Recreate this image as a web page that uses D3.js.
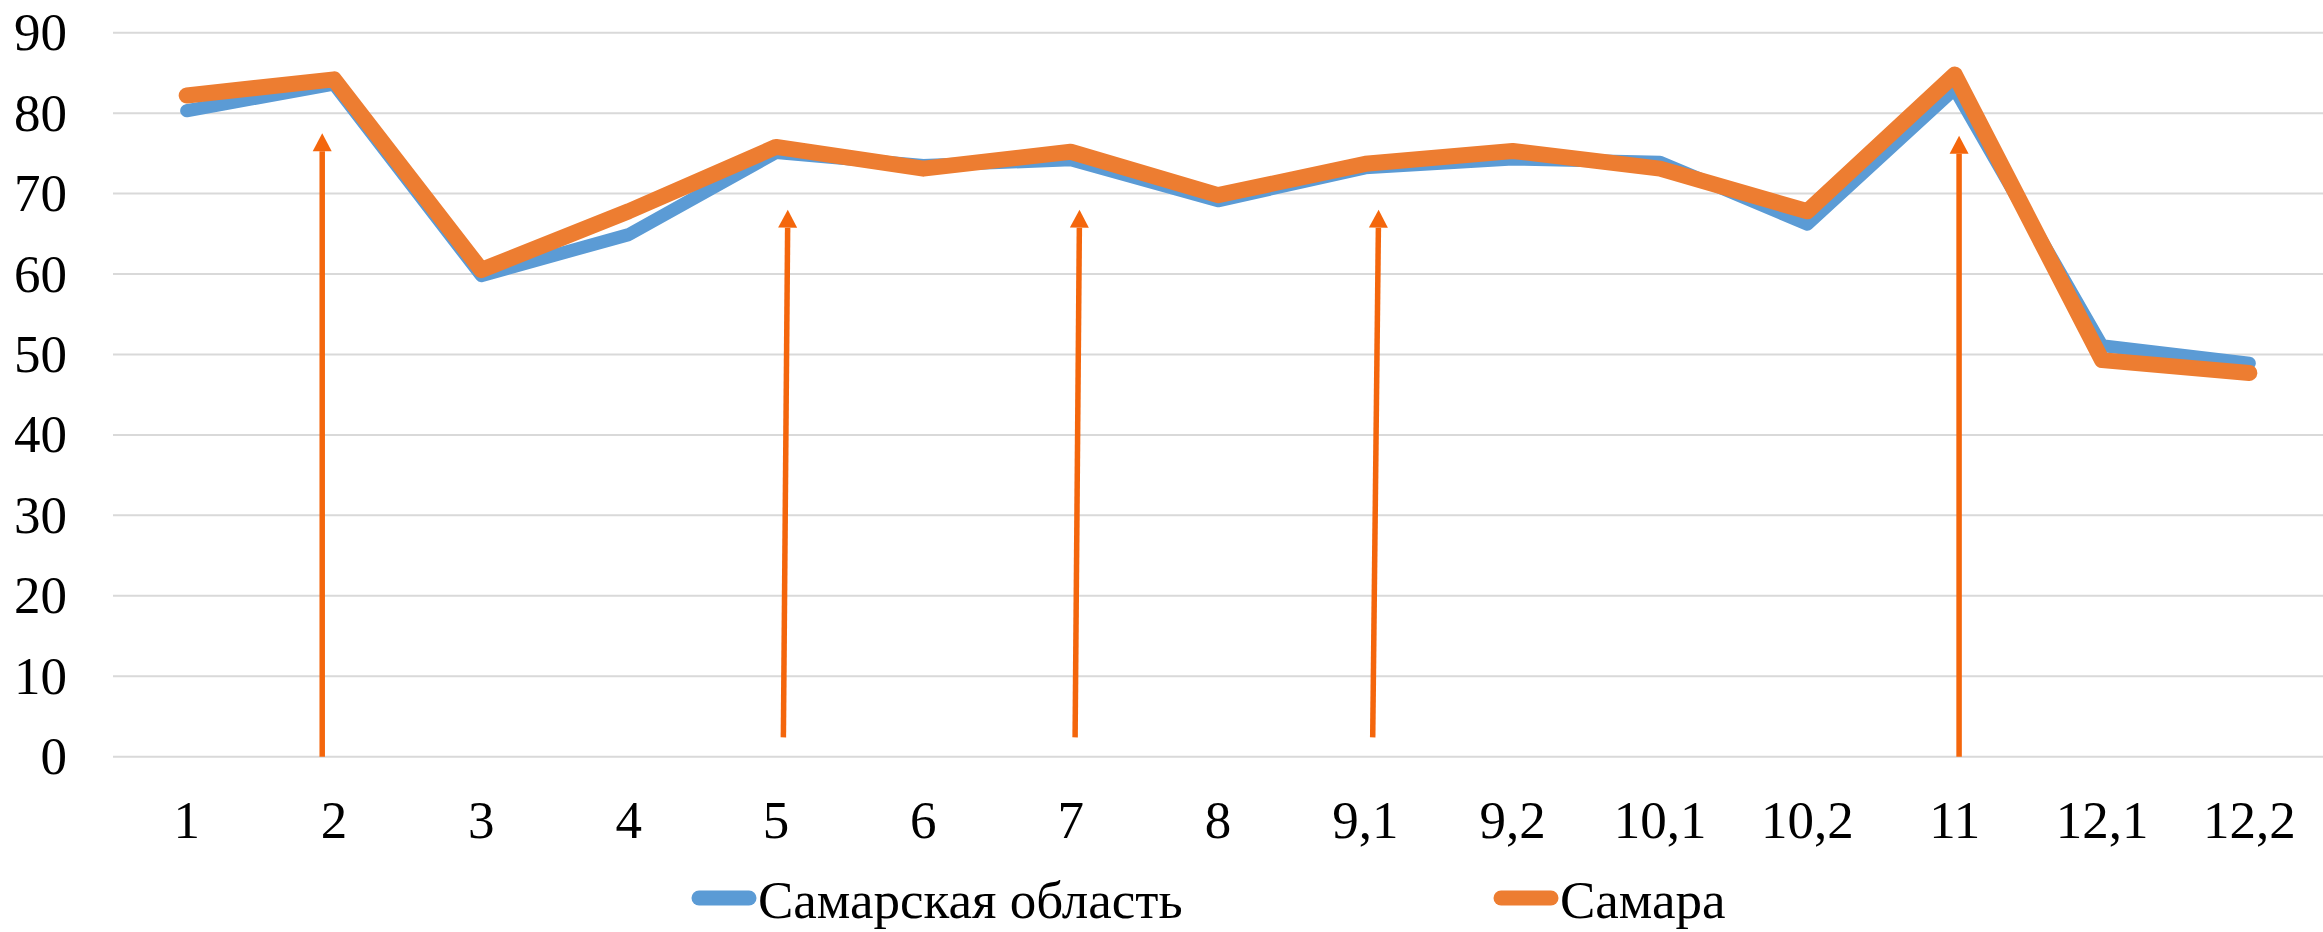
<!DOCTYPE html>
<html>
<head>
<meta charset="utf-8">
<script src="https://cdn.jsdelivr.net/npm/d3@7"></script>
<style>
	body { margin: 0; background: #fff; }
	text { font-family: "Liberation Serif", "Times New Roman", serif; fill: #000; }
</style>
</head>
<body>
<svg id="chart" width="2323" height="932"></svg>
<script>
var categories = ["1", "2", "3", "4", "5", "6", "7", "8", "9,1", "9,2", "10,1", "10,2", "11", "12,1", "12,2"];
var oblast = [80.3, 83.6, 59.8, 64.9, 75.1, 73.5, 74.2, 69.1, 73.2, 74.3, 73.9, 66.2, 83.0, 51.1, 48.9];
var samara = [82.2, 84.2, 60.5, 67.8, 75.8, 73.1, 75.2, 69.8, 73.7, 75.3, 73.1, 67.8, 84.8, 49.3, 47.7];
var yTicks = [0, 10, 20, 30, 40, 50, 60, 70, 80, 90];
var seriesNames = ["Самарская область", "Самара"];
// arrows: position along category axis (index units), from value -> to value
var arrowFrom = [[0.92, 0], [4.05, 2.4], [6.03, 2.4], [8.05, 2.4], [12.03, 0]];
var arrowTo = [[0.92, 77.5], [4.08, 68], [6.06, 68], [8.09, 68], [12.03, 77.2]];

var svg = d3.select("#chart"),
	margin = {top: 32.7, left: 113, right: 0, bottom: 175.3},
	width = +svg.attr("width") - margin.left - margin.right,
	height = +svg.attr("height") - margin.top - margin.bottom;

var fontSize = 53;
var blue = "#5B9BD5", orange = "#ED7D31", arrowColor = "#F4660C";

var x = d3.scaleBand().domain(categories).range([margin.left, margin.left + width]).padding(0);
var xi = d3.scaleLinear().domain([-0.5, categories.length - 0.5]).range([margin.left, margin.left + width]);
var y = d3.scaleLinear().domain([0, 90]).range([margin.top + height, margin.top]);

// gridlines
svg.append("g")
	.selectAll("line")
	.data(yTicks)
	.enter().append("line")
	.attr("x1", margin.left)
	.attr("x2", margin.left + width)
	.attr("y1", function(d) { return y(d); })
	.attr("y2", function(d) { return y(d); })
	.attr("stroke", "#D9D9D9")
	.attr("stroke-width", 2);

// y labels
svg.append("g")
	.selectAll("text")
	.data(yTicks)
	.enter().append("text")
	.attr("x", 67)
	.attr("y", function(d) { return y(d) + fontSize * 0.33; })
	.attr("text-anchor", "end")
	.attr("font-size", fontSize)
	.text(function(d) { return d; });

// x labels
svg.append("g")
	.selectAll("text")
	.data(categories)
	.enter().append("text")
	.attr("x", function(d) { return x(d) + x.bandwidth() / 2; })
	.attr("y", 838)
	.attr("text-anchor", "middle")
	.attr("font-size", fontSize)
	.text(function(d) { return d; });

var line = d3.line()
	.x(function(d, i) { return x(categories[i]) + x.bandwidth() / 2; })
	.y(function(d) { return y(d); });

svg.append("path")
	.attr("d", line(oblast))
	.attr("fill", "none")
	.attr("stroke", blue)
	.attr("stroke-width", 13)
	.attr("stroke-linejoin", "round")
	.attr("stroke-linecap", "round");

svg.append("path")
	.attr("d", line(samara))
	.attr("fill", "none")
	.attr("stroke", orange)
	.attr("stroke-width", 16)
	.attr("stroke-linejoin", "round")
	.attr("stroke-linecap", "round");

// arrows
var headLen = 18, headW = 19;
for (var i = 0; i < arrowFrom.length; i++) {
	var x0 = xi(arrowFrom[i][0]), y0 = y(arrowFrom[i][1]);
	var x1 = xi(arrowTo[i][0]), y1 = y(arrowTo[i][1]);
	var ang = Math.atan2(y1 - y0, x1 - x0);
	var bx = x1 - headLen * Math.cos(ang), by = y1 - headLen * Math.sin(ang);
	svg.append("line")
		.attr("x1", x0).attr("y1", y0)
		.attr("x2", bx).attr("y2", by)
		.attr("stroke", arrowColor)
		.attr("stroke-width", 5.5);
	var px = -Math.sin(ang) * headW / 2, py = Math.cos(ang) * headW / 2;
	svg.append("path")
		.attr("d", "M" + x1 + "," + y1 + "L" + (bx + px) + "," + (by + py) + "L" + (bx - px) + "," + (by - py) + "Z")
		.attr("fill", arrowColor);
}

// legend
var legend = svg.append("g");
var legendX = [692, 1494];
var legendColors = [blue, orange];
for (var j = 0; j < seriesNames.length; j++) {
	legend.append("line")
		.attr("x1", legendX[j] + 7).attr("x2", legendX[j] + 57)
		.attr("y1", 898).attr("y2", 898)
		.attr("stroke", legendColors[j])
		.attr("stroke-width", 15)
		.attr("stroke-linecap", "round");
	legend.append("text")
		.attr("x", legendX[j] + 66)
		.attr("y", 918)
		.attr("font-size", fontSize)
		.text(seriesNames[j]);
}
</script>
</body>
</html>
